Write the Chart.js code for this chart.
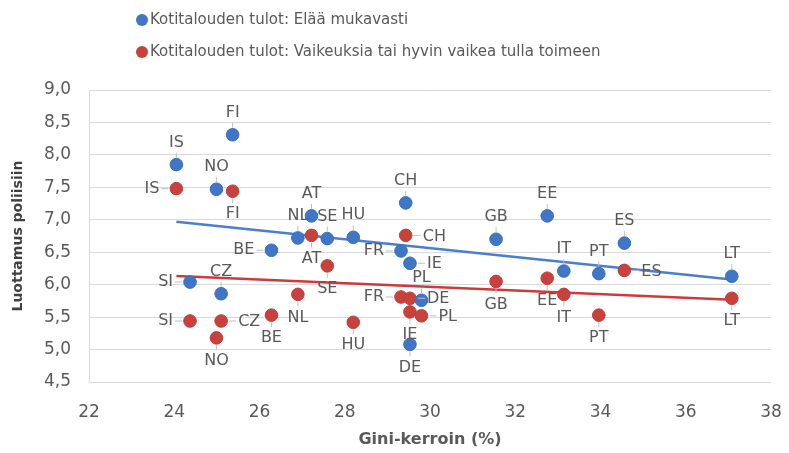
<!DOCTYPE html>
<html>
<head>
<meta charset="utf-8">
<script src="https://cdn.jsdelivr.net/npm/chart.js@4.4.1/dist/chart.umd.min.js"></script>
<style>
  html, body { margin: 0; padding: 0; background: #fff; }
  #wrap { width: 789px; height: 453px; position: relative; }
</style>
</head>
<body>
<div id="wrap"><canvas id="giniChart"></canvas></div>
<script>
// --- data ---
const countries = ['IS', 'FI', 'NO', 'AT', 'NL', 'SE', 'BE', 'HU', 'CH', 'FR', 'IE', 'PL', 'DE', 'GB', 'EE', 'IT', 'PT', 'ES', 'LT', 'SI', 'CZ'];
const gini = [24.05, 25.37, 24.99, 27.22, 26.9, 27.59, 26.28, 28.2, 29.43, 29.32, 29.53, 29.8, 29.53, 31.55, 32.75, 33.14, 33.96, 34.56, 37.08, 24.37, 25.1];
const trustComfortable = [7.85, 8.31, 7.47, 7.06, 6.72, 6.71, 6.53, 6.73, 7.26, 6.52, 6.33, 5.76, 5.08, 6.7, 7.06, 6.21, 6.17, 6.64, 6.13, 6.04, 5.86];
const trustDifficult = [7.48, 7.44, 5.18, 6.76, 5.85, 6.29, 5.53, 5.42, 6.76, 5.81, 5.58, 5.52, 5.79, 6.05, 6.1, 5.85, 5.53, 6.22, 5.79, 5.44, 5.44];

const seriesNames = ['Kotitalouden tulot: Elää mukavasti', 'Kotitalouden tulot: Vaikeuksia tai hyvin vaikea tulla toimeen'];
const yTicks = [4.5, 5, 5.5, 6, 6.5, 7, 7.5, 8, 8.5, 9];
const xTicks = [22, 24, 26, 28, 30, 32, 34, 36, 38];

// label placement (t = above, b = below, l = left, r = right)
const placeComfortable = ['t', 't', 't', 't', 't', 't', 'l', 't', 't', 'l', 'r', 't', 'b', 't', 't', 't', 't', 't', 't', 'l', 't'];
const placeDifficult = ['l', 'b', 'b', 'b', 'b', 'b', 'b', 'b', 'r', 'l', 'b', 'r', 'r', 'b', 'b', 'b', 'b', 'r', 'b', 'l', 'r'];

const BLUE = '#3f76c6';
const RED = '#c9413d';
const TEXT = '#595959';
const FONT = '"DejaVu Sans", Verdana, sans-serif';

// linear trendline (least squares, like Excel)
function trend(xs, ys) {
    const n = xs.length;
    let sx = 0, sy = 0, sxx = 0, sxy = 0;
    for (let i = 0; i < n; i++) {
        sx += xs[i]; sy += ys[i]; sxx += xs[i] * xs[i]; sxy += xs[i] * ys[i];
    }
    const b = (n * sxy - sx * sy) / (n * sxx - sx * sx);
    const a = (sy - b * sx) / n;
    const x0 = Math.min(...xs), x1 = Math.max(...xs);
    return [{ x: x0, y: a + b * x0 }, { x: x1, y: a + b * x1 }];
}

const pts = ys => gini.map((g, i) => ({ x: g, y: ys[i] }));

// point labels with short leader lines
const pointLabels = {
    id: 'pointLabels',
    afterDatasetsDraw(chart) {
        const ctx = chart.ctx;
        ctx.save();
        ctx.font = '16px ' + FONT;
        ctx.fillStyle = TEXT;
        ctx.strokeStyle = '#bfbfbf';
        ctx.lineWidth = 1;
        chart.data.datasets.forEach((ds, di) => {
            if (!ds.place) return;
            const meta = chart.getDatasetMeta(di);
            meta.data.forEach((el, i) => {
                const px = el.x, py = el.y, p = ds.place[i];
                ctx.beginPath();
                if (p === 't') {
                    ctx.moveTo(px, py - 7); ctx.lineTo(px, py - 12);
                    ctx.textAlign = 'center'; ctx.textBaseline = 'middle';
                    ctx.stroke(); ctx.fillText(countries[i], px, py - 22);
                } else if (p === 'b') {
                    ctx.moveTo(px, py + 7); ctx.lineTo(px, py + 12);
                    ctx.textAlign = 'center'; ctx.textBaseline = 'middle';
                    ctx.stroke(); ctx.fillText(countries[i], px, py + 23);
                } else if (p === 'l') {
                    ctx.moveTo(px - 8, py); ctx.lineTo(px - 15, py);
                    ctx.textAlign = 'right'; ctx.textBaseline = 'middle';
                    ctx.stroke(); ctx.fillText(countries[i], px - 17, py);
                } else {
                    ctx.moveTo(px + 8, py); ctx.lineTo(px + 15, py);
                    ctx.textAlign = 'left'; ctx.textBaseline = 'middle';
                    ctx.stroke(); ctx.fillText(countries[i], px + 17, py + 1);
                }
            });
        });
        ctx.restore();
    }
};

// legend drawn in the top padding, two rows
const topLegend = {
    id: 'topLegend',
    afterDraw(chart) {
        const ctx = chart.ctx;
        ctx.save();
        ctx.font = '15px ' + FONT;
        ctx.textBaseline = 'middle';
        ctx.textAlign = 'left';
        [BLUE, RED].forEach((c, i) => {
            const y = 20 + i * 32;
            ctx.fillStyle = c;
            ctx.beginPath();
            ctx.ellipse(142, y, 6, 6, 0, 0, Math.PI * 2);
            ctx.fill();
            ctx.fillStyle = TEXT;
            ctx.fillText(seriesNames[i], 150, y);
        });
        ctx.restore();
    }
};

document.addEventListener('DOMContentLoaded', function() {
    const ctx = document.getElementById('giniChart').getContext('2d');

    new Chart(ctx, {
        type: 'scatter',
        data: {
            datasets: [
                {
                    label: seriesNames[0] + ' trend',
                    type: 'line',
                    data: trend(gini, trustComfortable),
                    borderColor: '#4a7fd0',
                    borderWidth: 2.5,
                    pointRadius: 0,
                    order: 3
                },
                {
                    label: seriesNames[1] + ' trend',
                    type: 'line',
                    data: trend(gini, trustDifficult),
                    borderColor: '#cc3b3b',
                    borderWidth: 2.5,
                    pointRadius: 0,
                    order: 3
                },
                {
                    label: seriesNames[1],
                    data: pts(trustDifficult),
                    place: placeDifficult,
                    backgroundColor: RED,
                    borderColor: '#b8403c',
                    borderWidth: 1,
                    pointRadius: 6.3,
                    order: 2
                },
                {
                    label: seriesNames[0],
                    data: pts(trustComfortable),
                    place: placeComfortable,
                    backgroundColor: BLUE,
                    borderColor: '#3a6db8',
                    borderWidth: 1,
                    pointRadius: 6.3,
                    order: 1
                }
            ]
        },
        options: {
            responsive: true,
            maintainAspectRatio: false,
            animation: false,
            layout: { padding: { top: 90, right: 18, left: 0, bottom: 0 } },
            plugins: {
                legend: { display: false },
                tooltip: { enabled: false }
            },
            scales: {
                x: {
                    type: 'linear',
                    min: 22,
                    max: 38,
                    afterBuildTicks: axis => { axis.ticks = xTicks.map(v => ({ value: v })); },
                    afterFit: axis => {
                        axis.height = 71;
                        axis.paddingLeft = 0;
                        axis.paddingRight = 0;
                    },
                    grid: { display: false },
                    border: { display: false },
                    ticks: {
                        color: TEXT,
                        padding: 12,
                        font: { family: FONT, size: 17 }
                    },
                    title: {
                        display: true,
                        text: 'Gini-kerroin (%)',
                        color: TEXT,
                        padding: { top: 8 },
                        font: { family: FONT, size: 16, weight: 'bold' }
                    }
                },
                y: {
                    min: 4.5,
                    max: 9,
                    afterBuildTicks: axis => { axis.ticks = yTicks.map(v => ({ value: v })); },
                    afterFit: axis => { axis.width = 89; },
                    grid: { color: '#d9d9d9', drawTicks: false, lineWidth: 1 },
                    border: { display: true, color: '#d9d9d9' },
                    ticks: {
                        color: TEXT,
                        padding: 18,
                        font: { family: FONT, size: 17 },
                        callback: v => v.toFixed(1).replace('.', ',')
                    },
                    title: {
                        display: true,
                        text: 'Luottamus poliisiin',
                        color: '#404040',
                        padding: { top: 10, bottom: 0 },
                        font: { family: FONT, size: 14, weight: 'bold' }
                    }
                }
            }
        },
        plugins: [pointLabels, topLegend]
    });
});
</script>
</body>
</html>
